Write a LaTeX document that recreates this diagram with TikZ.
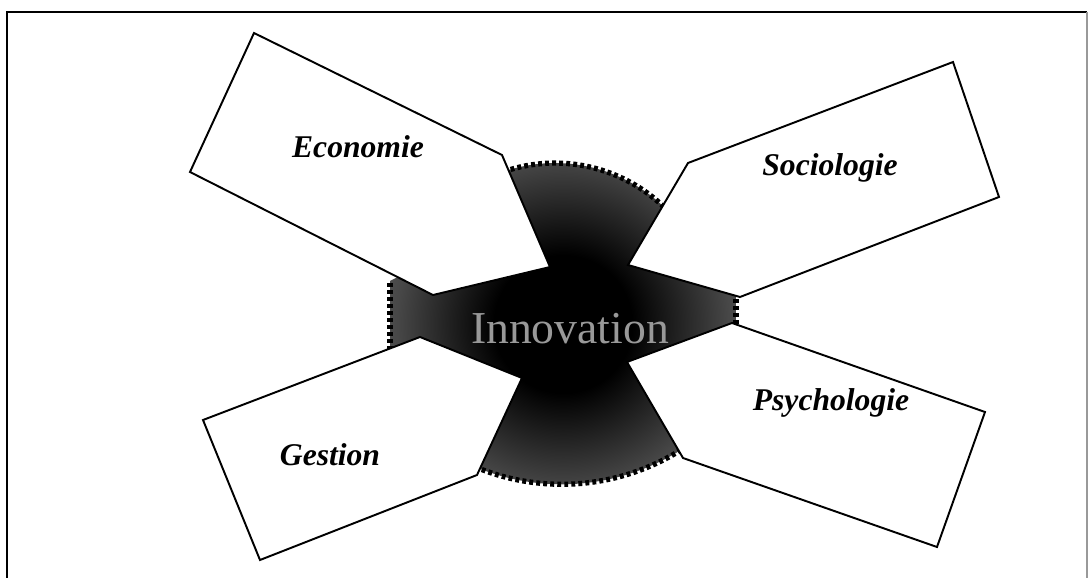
\documentclass[tikz,border=0pt]{standalone}
\usepackage{fontspec}
\setmainfont{Liberation Serif}
\usetikzlibrary{positioning}

\pgfdeclareradialshading{innovshade}{\pgfpoint{0bp}{0bp}}{color(0bp)=(black); color(10bp)=(black); color(24bp)=(black!72); color(50bp)=(black!42)}

\begin{document}
\begin{tikzpicture}[x=0.02cm, y=-0.02cm,
    box/.style={draw, line width=1.1pt, fill=white},
    field/.style={font=\fontsize{18}{20}\selectfont\bfseries\itshape, anchor=base, inner sep=0pt},
    core/.style={shading=innovshade},
    rim/.style={draw=black, line width=3pt, dash pattern=on 2.2pt off 1.8pt},
    frame/.style={draw, line width=1.2pt}
  ]
  \useasboundingbox (0,0) rectangle (1090,578);

  % Frame
  \draw[frame] (7,578) -- (7,12) -- (1087,12);
  \draw[draw=black!40, line width=0.6pt] (1087,12) -- (1087,578);

  % Innovation core (behind the boxes)
  \path[core] (503.9,171.6) arc[start angle=-109, end angle=-45, radius=157]
    -- (700,250) -- (736,292) -- (736,330) -- (700,380) -- (687,446)
    arc[start angle=56, end angle=113, radius=224]
    -- (470,400) -- (390,350) -- (390,281) -- (440,255) -- cycle;
  \draw[rim] (503.9,171.6) arc[start angle=-109, end angle=-45, radius=157];
  \draw[rim] (687,446) arc[start angle=56, end angle=113, radius=224];
  \draw[rim] (390,350) -- (390,281);
  \draw[rim] (736,292) -- (736,330);

  % Boxes
  \draw[box] (254,33) -- (502,155) -- (550,267) -- (433,295) -- (190,172) -- cycle;
  \draw[box] (688,163) -- (953,62) -- (999,197) -- (740,297) -- (628,265) -- cycle;
  \draw[box] (203,420) -- (420,337) -- (522,378) -- (477,475) -- (260,560) -- cycle;
  \draw[box] (732,323) -- (985,412) -- (937,547) -- (683,458) -- (627,362) -- cycle;

  % Labels
  \node[field] (eco) at (358,157) {Economie};
  \node[field] (soc) at (830,175) {Sociologie};
  \node[field] (ges) at (330,465) {Gestion};
  \node[field] (psy) at (831,410) {Psychologie};

  \node[font=\fontsize{26}{28}\selectfont, text=black!40, anchor=base, inner sep=0pt] (innov) at (570,343) {Innovation};
\end{tikzpicture}
\end{document}
